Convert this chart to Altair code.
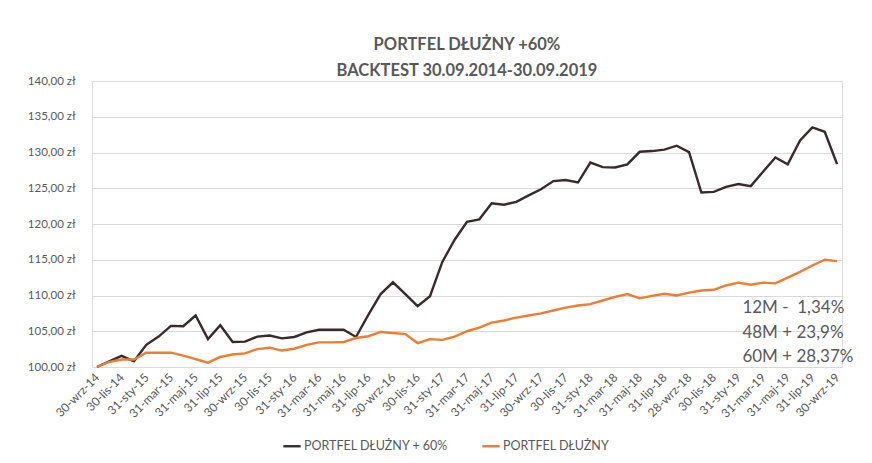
import altair as alt
import pandas as pd

dates = [
    "30-wrz-14", "31-paź-14", "30-lis-14", "31-gru-14", "31-sty-15", "28-lut-15",
    "31-mar-15", "30-kwi-15", "31-maj-15", "30-cze-15", "31-lip-15", "31-sie-15",
    "30-wrz-15", "31-paź-15", "30-lis-15", "31-gru-15", "31-sty-16", "29-lut-16",
    "31-mar-16", "30-kwi-16", "31-maj-16", "30-cze-16", "31-lip-16", "31-sie-16",
    "30-wrz-16", "31-paź-16", "30-lis-16", "31-gru-16", "31-sty-17", "28-lut-17",
    "31-mar-17", "30-kwi-17", "31-maj-17", "30-cze-17", "31-lip-17", "31-sie-17",
    "30-wrz-17", "31-paź-17", "30-lis-17", "31-gru-17", "31-sty-18", "28-lut-18",
    "31-mar-18", "30-kwi-18", "31-maj-18", "30-cze-18", "31-lip-18", "31-sie-18",
    "28-wrz-18", "31-paź-18", "30-lis-18", "31-gru-18", "31-sty-19", "28-lut-19",
    "31-mar-19", "30-kwi-19", "31-maj-19", "30-cze-19", "31-lip-19", "31-sie-19",
    "30-wrz-19",
]

portfel_60 = [
    100.0, 100.8, 101.55, 100.8, 103.1, 104.25, 105.75, 105.7, 107.2, 103.9,
    105.85, 103.5, 103.55, 104.25, 104.4, 104.0, 104.2, 104.85, 105.2, 105.2,
    105.2, 104.2, 107.3, 110.2, 111.85, 110.2, 108.5, 109.9, 114.7, 117.8,
    120.3, 120.65, 122.9, 122.7, 123.1, 124.0, 124.85, 126.0, 126.15, 125.8,
    128.6, 127.95, 127.9, 128.35, 130.1, 130.2, 130.4, 130.95, 130.05, 124.4,
    124.5, 125.2, 125.6, 125.3, 127.3, 129.3, 128.35, 131.7, 133.5, 132.9,
    128.37,
]

portfel = [
    100.0, 100.7, 101.05, 101.05, 102.0, 102.0, 102.0, 101.6, 101.1, 100.6,
    101.4, 101.75, 101.9, 102.5, 102.7, 102.3, 102.55, 103.1, 103.45, 103.45,
    103.5, 104.05, 104.3, 104.9, 104.75, 104.6, 103.35, 103.9, 103.8, 104.25,
    105.0, 105.5, 106.2, 106.5, 106.9, 107.2, 107.5, 107.9, 108.3, 108.6,
    108.8, 109.3, 109.8, 110.2, 109.6, 109.95, 110.25, 110.0, 110.4, 110.7,
    110.8, 111.4, 111.8, 111.5, 111.8, 111.7, 112.5, 113.3, 114.2, 115.0,
    114.8,
]

series_names = ["PORTFEL DŁUŻNY + 60%", "PORTFEL DŁUŻNY"]
series_colors = ["#3B2A2B", "#ED7D31"]

tick_labels = dates[::2]
y_ticks = [100, 105, 110, 115, 120, 125, 130, 135, 140]

note_lines = ["12M -\u00a0\u00a01,34%", "48M + 23,9%", "60M + 28,37%"]
note_y = [108.25, 104.8, 101.45]
note_x = "31-sty-19"

title_lines = ["PORTFEL DŁUŻNY +60%", "BACKTEST 30.09.2014-30.09.2019"]

rows = []
for name, vals in zip(series_names, [portfel_60, portfel]):
    for d, v in zip(dates, vals):
        rows.append({"data": d, "wartosc": v, "seria": name})
df = pd.DataFrame(rows)

notes = pd.DataFrame({"tekst": note_lines, "y": note_y, "data": [note_x] * 3})

FONT = "Lato"
GREY = "#595959"

x_scale = alt.Scale(type="point", padding=0.4, domain=dates)
y_scale = alt.Scale(domain=[100, 140], nice=False, zero=False)

x_axis = alt.Axis(
    values=tick_labels,
    labelAngle=-45,
    labelAlign="right",
    labelBaseline="middle",
    labelFontSize=12,
    labelColor=GREY,
    labelFont=FONT,
    labelPadding=8,
    ticks=False,
    domain=False,
    grid=False,
    title=None,
    labelOverlap=False,
)

y_axis = alt.Axis(
    values=y_ticks,
    labelExpr="replace(format(datum.value, '.2f'), '.', ',') + ' zł'",
    labelFontSize=11.5,
    labelColor=GREY,
    labelFont=FONT,
    labelPadding=17,
    labelOverlap=False,
    ticks=False,
    domain=False,
    grid=True,
    gridColor="#D9D9D9",
    gridWidth=1,
    title=None,
)

lines = alt.Chart(df).mark_line(strokeWidth=2.4).encode(
    x=alt.X("data:O", sort=dates, scale=x_scale, axis=x_axis),
    y=alt.Y("wartosc:Q", scale=y_scale, axis=y_axis),
    color=alt.Color(
        "seria:N",
        scale=alt.Scale(domain=series_names, range=series_colors),
        legend=alt.Legend(
            title=None,
            orient="none",
            legendX=190,
            legendY=355,
            direction="horizontal",
            symbolType="stroke",
            symbolSize=300,
            symbolStrokeWidth=2.4,
            labelFont=FONT,
            labelFontSize=12.5,
            labelColor=GREY,
            columnPadding=28,
            labelOffset=2,
        ),
    ),
    order=alt.Order("seria:N"),
)

text = alt.Chart(notes).mark_text(
    align="left", baseline="middle", dx=4, fontSize=17, font=FONT, color=GREY
).encode(
    x=alt.X("data:O", sort=dates, scale=x_scale, axis=x_axis),
    y=alt.Y("y:Q", scale=y_scale, axis=y_axis),
    text="tekst:N",
)

chart = (
    alt.layer(lines, text)
    .properties(
        width=750,
        height=286,
        autosize=alt.AutoSizeParams(type="none"),
        padding={"left": 84, "top": 73, "right": 20, "bottom": 88},
        title=alt.TitleParams(
            text=title_lines,
            anchor="middle",
            fontSize=16.5,
            font=FONT,
            fontWeight="bold",
            color=GREY,
            lineHeight=26,
            offset=-4,
        ),
    )
    .configure_view(strokeWidth=0, stroke="transparent")
    .configure(background="white")
)

chart.save("out.html", embed_options={"renderer": "svg", "actions": False})
